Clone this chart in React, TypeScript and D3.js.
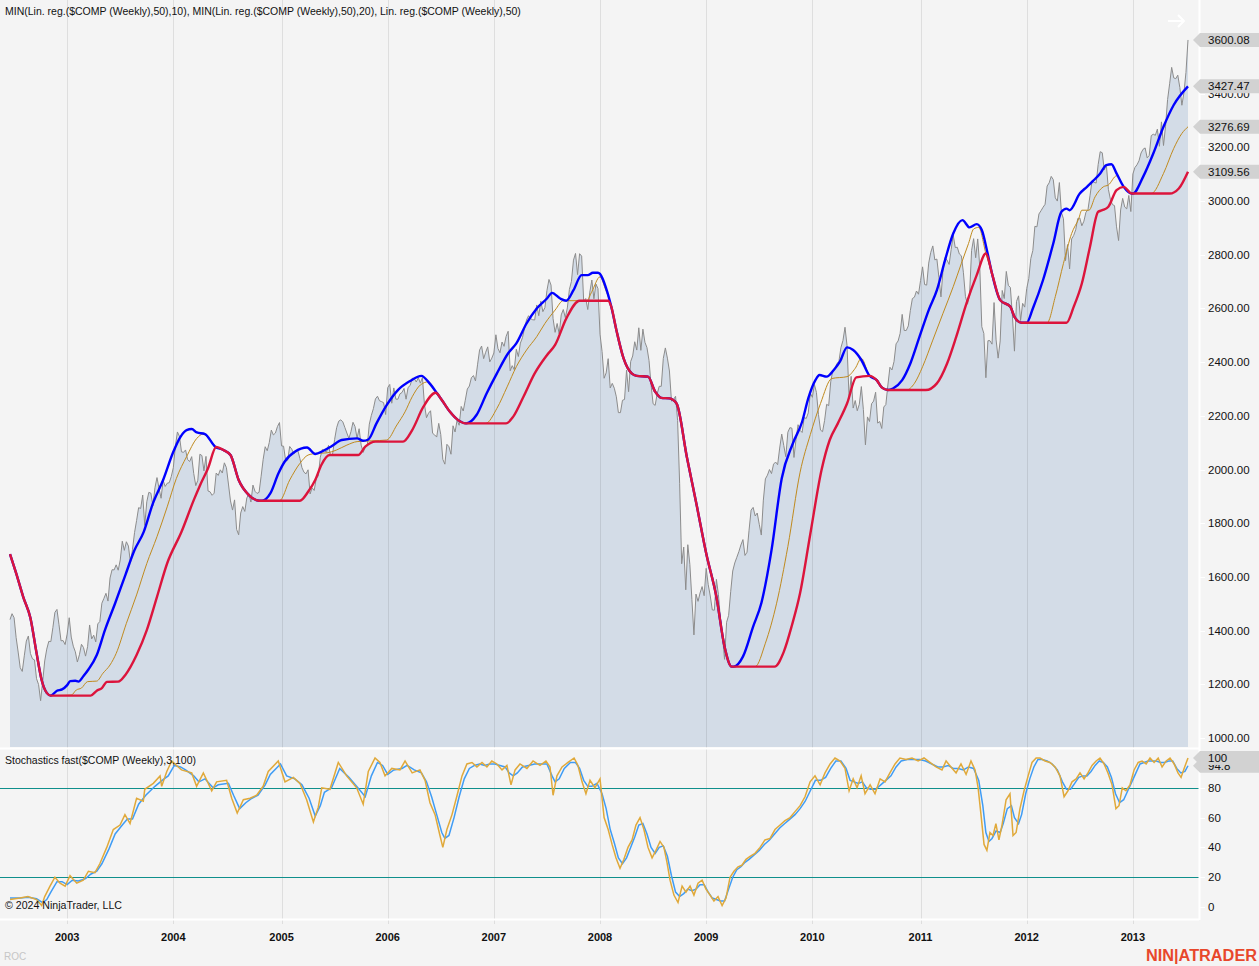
import React, { useEffect, useRef } from "react";
import * as d3 from "d3";

const W = 1259;
const H = 966;
const FONT = "'Liberation Sans', Arial, Helvetica, sans-serif";

// first weekly bar (Friday close)
const START_DATE = "2002-06-21";

// Weekly closes of $COMP
const closes2002 = [1441,1463,1448,1374,1320,1262,1248,1306,1361,1380,1315,1295,1291,1221,1199,1139,1210,1287,1331,1360,1359,1411,1468,1479,1422,1362,1363,1348];
const closes2003 = [1387,1448,1376,1342,1321,1283,1310,1349,1337,1305,1340,1421,1369,1383,1358,1425,1434,1502,1520,1539,1510,1596,1627,1626,1645,1625,1663,1733,1699,1731,1715,1653,1702,1765,1810,1858,1855,1905,1792,1880,1915,1912,1865,1932,1970,1930,1893,1960,1937,1949,1951,1974];
const closes2004 = [2007,2087,2140,2124,2066,2064,2073,2037,2030,2048,1985,1940,1960,2057,2052,1995,2049,1920,1917,1904,1912,1987,1978,1999,1987,2025,2007,1946,1883,1849,1887,1777,1757,1838,1862,1844,1894,1910,1879,1942,1919,1911,1915,1975,2038,2085,2070,2101,2147,2129,2136,2160,2175];
const closes2005 = [2088,2087,2035,2035,2086,2076,2058,2065,2071,2041,2007,1990,1984,1999,1909,1932,1922,1967,1976,2046,2075,2071,2064,2090,2053,2057,2112,2156,2180,2185,2178,2157,2136,2116,2141,2176,2160,2117,2152,2091,2064,2083,2090,2169,2202,2227,2263,2273,2256,2253,2249,2205];
const closes2006 = [2305,2317,2247,2304,2262,2262,2282,2287,2302,2262,2306,2313,2340,2339,2326,2342,2322,2343,2243,2193,2210,2219,2135,2129,2121,2172,2130,2038,2020,2094,2085,2057,2163,2140,2184,2165,2235,2218,2258,2300,2311,2342,2350,2330,2390,2445,2460,2413,2437,2457,2401,2415];
const closes2007 = [2434,2502,2451,2435,2475,2459,2496,2515,2368,2387,2372,2448,2421,2471,2491,2526,2557,2573,2562,2558,2557,2613,2573,2627,2588,2603,2667,2708,2687,2562,2511,2544,2505,2576,2596,2566,2602,2671,2701,2780,2805,2726,2804,2795,2627,2637,2596,2661,2706,2636,2691,2674];
const closes2008 = [2504,2440,2340,2360,2413,2304,2321,2303,2271,2212,2212,2258,2261,2370,2290,2402,2423,2476,2445,2528,2444,2523,2474,2454,2406,2316,2245,2239,2282,2310,2310,2414,2453,2415,2367,2255,2261,2273,2183,1947,1649,1711,1552,1720,1647,1516,1384,1536,1509,1540,1564,1530];
const closes2009 = [1632,1571,1529,1477,1476,1591,1534,1441,1377,1293,1431,1457,1545,1622,1652,1673,1694,1719,1739,1680,1692,1774,1849,1859,1827,1838,1796,1756,1886,1965,1979,2000,1985,2020,2028,2018,2080,2132,2090,2048,2139,2156,2154,2045,2112,2167,2146,2138,2194,2190,2211,2285];
const closes2010 = [2269,2317,2287,2205,2147,2141,2183,2243,2238,2327,2368,2374,2395,2402,2454,2481,2530,2461,2265,2347,2229,2257,2219,2243,2309,2223,2092,2196,2179,2245,2255,2288,2173,2179,2153,2233,2242,2315,2381,2371,2402,2468,2479,2507,2578,2518,2518,2535,2592,2637,2642,2665,2653];
const closes2011 = [2704,2755,2689,2687,2769,2809,2833,2781,2784,2715,2643,2743,2789,2780,2764,2820,2873,2827,2828,2803,2796,2733,2644,2616,2652,2816,2860,2789,2859,2756,2532,2507,2342,2480,2480,2467,2622,2483,2415,2479,2667,2637,2738,2686,2678,2572,2441,2626,2647,2555,2619,2605];
const closes2012 = [2674,2711,2786,2816,2906,2904,2952,2964,2977,2988,3056,3068,3092,3080,3012,3000,3069,2957,2934,2778,2838,2747,2859,2872,2893,2935,2937,2908,2925,2958,2968,3020,3076,3070,3067,3136,3184,3180,3116,3136,3044,3006,2987,2983,2904,2853,2967,3010,2978,2971,3021,2961];
const closes2013 = [3101,3125,3135,3150,3179,3193,3198,3161,3170,3244,3249,3245,3268,3204,3295,3207,3279,3378,3437,3498,3459,3456,3469,3423,3357,3403,3479,3600.08];

const closes = [
  ...closes2002, ...closes2003, ...closes2004, ...closes2005, ...closes2006, ...closes2007,
  ...closes2008, ...closes2009, ...closes2010, ...closes2011, ...closes2012, ...closes2013,
];

// indicator lines: [bar index, value]
const blueMin10: [number, number][] = [[0,1685],[3,1614],[6.5,1525],[10,1447],[13,1317],[15.5,1216],[18,1168],[20,1158],[23,1176],[25.5,1181],[28,1197],[29.5,1212],[32,1213],[33.5,1210],[36,1231],[38.5,1256],[42.5,1309],[46.5,1402],[51.5,1502],[56.5,1607],[61,1700],[65.5,1768],[70,1874],[75,1961],[80,2066],[83.5,2122],[86.5,2147],[89,2151],[91.5,2138],[95.5,2132],[100.5,2085],[104.5,2073],[108,2054],[112,1961],[117,1905],[122,1884],[123.5,1884],[127.5,1911],[131.5,1986],[134.5,2029],[139.5,2066],[145.5,2082],[149.5,2058],[153.5,2070],[157.5,2087],[162.5,2110],[170,2116],[173,2107],[175.5,2112],[179.5,2172],[184.5,2240],[190,2296],[196,2330],[201.5,2349],[205.5,2321],[209,2286],[211.5,2259],[215.5,2215],[219.5,2184],[223.5,2172],[228.5,2203],[233.5,2284],[238.5,2358],[244,2433],[248,2470],[253,2544],[258,2600],[263,2637],[265.5,2658],[269.5,2637],[272.5,2629],[276,2668],[280,2724],[283,2724],[285.5,2733],[288,2733],[292.5,2663],[294.5,2607],[297,2520],[300.5,2415],[304.5,2358],[307,2349],[312.5,2346],[316,2290],[319,2267],[323,2265],[326.5,2246],[331.5,2048],[336.5,1861],[341,1688],[346,1526],[350,1340],[353.5,1266],[354.5,1266],[359,1303],[364,1415],[368,1502],[373,1700],[378,1967],[383.5,2098],[388,2178],[391,2265],[394.5,2333],[396.5,2352],[400,2346],[403.5,2371],[406.5,2402],[410,2455],[413,2445],[417,2408],[421,2349],[424.5,2333],[427,2306],[430,2296],[432.5,2302],[437,2333],[441,2395],[445.5,2495],[450,2594],[454,2668],[458,2780],[462,2879],[466.5,2929],[470,2902],[473.5,2914],[476,2892],[478.5,2817],[481,2730],[485,2631],[490,2606],[492,2569],[495.5,2547],[498,2547],[501,2600],[506,2706],[511,2842],[515,2960],[517.5,2972],[519,2966],[524,3028],[527.5,3053],[530.5,3075],[534,3103],[537,3134],[539.5,3137],[542,3103],[545.5,3053],[549.5,3028],[550,3028],[555,3090],[560,3177],[565,3277],[570,3358],[577,3427.47]];

const goldMin20: [number, number][] = [[0,1685],[3,1614],[6.5,1525],[10,1447],[13,1317],[15.5,1216],[18,1168],[20,1158],[30,1160],[32.5,1179],[35,1186],[38,1210],[42.5,1212],[45.5,1241],[49,1272],[52,1315],[57,1427],[62,1533],[67,1650],[72,1750],[77,1861],[81.5,1967],[86.5,2048],[91.5,2116],[94.5,2132],[98,2110],[101,2084],[104.5,2073],[108,2054],[112,1961],[117,1905],[122,1884],[132,1884],[137,1961],[142,2023],[146,2054],[150,2060],[155,2062],[160,2073],[165,2091],[170,2104],[184.5,2110],[189.5,2166],[193.5,2215],[197,2271],[201,2315],[205,2327],[208.5,2286],[211.5,2259],[215.5,2215],[219.5,2184],[223,2172],[233,2172],[238.5,2228],[243.5,2308],[248,2383],[253,2445],[258,2495],[262,2544],[267,2594],[271,2629],[282.5,2629],[285,2663],[289,2718],[291.5,2675],[294.5,2607],[297,2520],[300.5,2415],[304.5,2358],[307,2349],[312.5,2346],[316,2290],[319,2267],[323,2265],[326.5,2246],[331.5,2048],[336.5,1861],[341,1688],[346,1526],[350,1340],[353.5,1266],[365,1266],[370,1353],[375.5,1502],[381,1713],[387,1990],[392,2130],[397,2246],[402.5,2339],[410,2346],[414,2377],[417,2414],[421,2349],[424.5,2333],[427,2306],[430,2296],[439,2296],[443,2321],[447,2383],[452,2482],[457,2582],[462,2681],[466,2768],[469.5,2842],[472,2896],[474.5,2902],[478,2805],[481,2730],[485,2631],[490,2606],[492,2569],[495.5,2547],[508,2547],[512,2644],[516,2768],[520,2879],[523.5,2935],[525,2966],[528.5,2966],[531.5,3016],[535.5,3053],[538,3060],[542,3094],[545.5,3053],[549.5,3028],[559,3028],[565,3103],[570,3196],[574,3252],[577,3276.69]];

const redLinReg: [number, number][] = [[0,1685],[3,1614],[6.5,1525],[10,1447],[13,1317],[15.5,1216],[18,1168],[20,1158],[39.5,1158],[42.5,1176],[45,1186],[47.5,1209],[53,1210],[56.5,1235],[62,1309],[67,1402],[72,1526],[77,1651],[84,1768],[90,1886],[93,1940],[97,2005],[101,2084],[104.5,2073],[108,2054],[112,1961],[117,1905],[122,1884],[142,1884],[146,1917],[149.5,1961],[152.5,2017],[156.5,2054],[170.5,2054],[174,2085],[179,2104],[192.5,2104],[197,2147],[202.5,2234],[208.5,2286],[211.5,2259],[215.5,2215],[219.5,2184],[223,2172],[243,2172],[246.5,2197],[251.5,2271],[257,2358],[263,2426],[267,2464],[272.5,2563],[279,2629],[293,2629],[294.5,2607],[297,2520],[300.5,2415],[304.5,2358],[307,2349],[312.5,2346],[316,2290],[319,2267],[323,2265],[326.5,2246],[331.5,2048],[336.5,1861],[341,1688],[346,1526],[350,1340],[353.5,1266],[374.5,1266],[379,1321],[383,1420],[387,1540],[392,1760],[397.5,1998],[401.5,2110],[405.5,2172],[410,2246],[414.5,2343],[421,2349],[424.5,2333],[427,2306],[430,2296],[448.5,2296],[454,2321],[459,2395],[463.5,2495],[468.5,2619],[473.5,2724],[478,2805],[481,2730],[485,2631],[490,2606],[492,2569],[495.5,2547],[517.5,2547],[521,2606],[525,2693],[529,2830],[533,2960],[535,2966],[538,2979],[542,3041],[545.5,3053],[549.5,3028],[568,3028],[572.5,3047],[577,3109.56]];

// Stochastics fast: K (orange) and D (blue), [bar index, value]
const stochK: [number, number][] = [[0,5],[4.9,6],[8.8,7],[13,5],[15.5,1],[17,7],[19.6,14],[22,20],[24.5,16],[27,14],[29.4,21],[32.7,16],[35.9,18],[38.4,24],[41.6,23],[44,29],[47.4,40],[50.6,52],[53.9,55],[56.3,62],[58.8,56],[62,73],[65.3,71],[66,79],[70.2,83],[73.5,88],[74.3,81],[76.8,91],[79.2,98],[82.4,94],[84,92],[89,90],[91.4,81],[94.7,90],[98.8,78],[101.2,84],[106.1,85],[108.6,73],[111.3,63],[114.3,72],[117.6,73],[120.8,75],[124,81],[126.5,91],[131.4,98],[134.7,84],[138.8,87],[142,83],[145.3,72],[148.6,57],[151,67],[152.7,80],[156.7,79],[160.8,97],[164.9,88],[169.8,80],[173,69],[175.5,91],[178.8,100],[181.2,97],[183.7,88],[187,93],[191,92],[193.5,98],[197,90],[200.8,92],[203.3,85],[205.7,70],[208.2,62],[210.6,48],[212,40],[214,52],[216.5,62],[219,75],[221.4,88],[223.8,96],[226.3,97],[228.7,94],[231.2,97],[233.6,94],[236,98],[238.5,96],[241,92],[243.4,95],[245.4,82],[247.4,92],[249.8,96],[253.2,93],[256.2,98],[259.6,95],[262.5,98],[264.5,94],[266,75],[267.9,88],[270.4,94],[273.3,97],[276.3,100],[278.2,95],[280.2,84],[282.1,76],[284.1,85],[286.5,80],[289,86],[291,60],[293,52],[294.9,42],[296.8,33],[298.8,26],[300.7,32],[302.7,40],[304.7,45],[306.6,55],[308.6,60],[310.5,52],[312.5,40],[314.5,33],[316.4,38],[318.4,44],[320.3,40],[321.8,30],[323.3,18],[325.2,8],[327.2,3],[329.2,14],[331.1,10],[333.1,14],[335,8],[337,16],[339,18],[340.9,12],[342.9,8],[344.8,4],[346.8,7],[348.8,1],[350.7,6],[352.7,20],[354.6,24],[356.6,27],[358.5,28],[360.5,32],[362.5,34],[364.9,36],[367.4,40],[369.8,45],[372.3,46],[374.7,52],[377.2,55],[379.6,58],[382.1,60],[384.5,64],[387,68],[389.4,74],[391.9,84],[394.3,88],[396.8,82],[399.2,90],[401.7,96],[404.1,100],[406.6,98],[409,93],[411,78],[413,86],[414.9,80],[416.9,88],[418.8,76],[421.3,82],[423.7,76],[426.2,86],[428.6,84],[431,90],[433.5,96],[435.9,100],[438.9,99],[441.8,100],[444.8,98],[447.7,100],[450.6,97],[453.6,94],[456.5,92],[458.5,98],[460.9,94],[463.4,90],[465.8,96],[468.3,89],[470.7,98],[472.7,92],[474.2,80],[475.6,62],[477.1,42],[478.5,38],[480,50],[481.5,48],[482.9,56],[484.4,45],[485.9,55],[487.9,72],[489.8,76],[491.3,48],[492.8,50],[494.7,66],[496.7,78],[498.7,88],[500.6,97],[502.6,100],[504.5,100],[507,98],[509.4,97],[511.9,94],[514.3,88],[516.3,74],[518.2,78],[520.2,84],[522.2,86],[524.1,90],[526.1,86],[528,90],[530,95],[532,98],[533.9,100],[535.9,96],[537.8,90],[539.8,82],[541.7,66],[543.2,68],[544.8,80],[546.6,78],[548.6,82],[550.6,92],[552.6,97],[554.5,98],[556.5,96],[558.4,100],[560.4,97],[562.4,100],[564.3,94],[566.3,98],[568.2,100],[570.2,96],[572.1,90],[573.6,87],[575.1,93],[577,100]];

const stochD: [number, number][] = [[0,6],[5,6],[9,6.5],[13,5.5],[16,3],[18,5],[20,10],[23,17],[25.5,17],[28,15],[30.5,18],[33.5,17.5],[37,19],[39.5,22],[42.5,24],[45,29],[48.5,39],[51.5,49],[55,55],[57.5,59],[60,59],[63,69],[66.5,75],[71,81],[74.5,85],[77.5,88],[80.5,95],[83.5,94],[86,92],[90,88],[92.5,84],[95.5,86],[99.5,80],[102,82],[107,83],[109.5,75],[112.5,66],[115.5,70],[118.5,73],[121.5,75],[125,82],[127.5,89],[132.5,96],[135.5,88],[139.5,86],[143,82],[146.5,73],[149.5,61],[152,68],[154,77],[157.5,80],[161.5,93],[166,87],[171,79],[174,74],[177,88],[180,97],[182.5,95],[185,89],[188,92],[192,93],[194.5,95],[198,92],[201.5,90],[204,84],[206.5,74],[209,62],[211.5,50],[213,46],[215,48],[217.5,60],[220,74],[222.5,86],[225,93],[227.5,95],[230,96],[232.5,95],[235,96],[237.5,96],[240,95],[242.5,94],[244.5,90],[246.5,88],[248.5,90],[251,94],[254,95],[257,96],[260.5,96],[263,96],[265.5,88],[267,84],[269,86],[271.5,93],[274.5,97],[277,97],[279,93],[281,85],[283,81],[285,81],[287.5,83],[290,76],[292,66],[294,52],[296,43],[298,33],[300,29],[302,33],[304,40],[306,47],[308,55],[310,56],[312,49],[314,40],[316,36],[318,40],[320,41],[322,34],[324,21],[326,10],[328,7],[330,9],[332,12],[334,11],[336,12],[338,15],[340,15],[342,10],[344,6],[346,5],[348,4],[350,4],[352,12],[354,20],[356,25],[358,27],[360,30],[362,32],[364.5,35],[367,38],[369.5,42],[372,45],[374.5,49],[377,53],[379.5,56],[382,59],[384.5,62],[387,66],[389.5,71],[392,78],[394.5,85],[397,85],[399.5,87],[402,93],[404.5,98],[407,98],[409.5,93],[411.5,85],[413.5,84],[415.5,83],[417.5,84],[419.5,80],[421.5,79],[424,79],[426.5,82],[429,85],[431.5,88],[434,94],[436.5,98],[439.5,99],[442.5,99],[445.5,99],[448.5,98],[451.5,96],[454.5,94],[457,94],[459.5,95],[462,93],[464.5,93],[467,92],[469.5,94],[472,93],[474.5,85],[476.5,68],[478,50],[479.5,44],[481,46],[483,51],[485,50],[486.5,56],[488.5,66],[490.5,68],[492,60],[494,56],[495.5,62],[497.5,76],[499.5,86],[501.5,94],[503.5,99],[505.5,99],[508,98],[510.5,96],[513,92],[515.5,84],[517.5,79],[519.5,79],[521.5,83],[523.5,87],[525.5,88],[527.5,88],[529.5,91],[531.5,95],[533.5,98],[535.5,97],[537.5,94],[539.5,87],[541.5,76],[543.5,70],[545.5,72],[547.5,78],[549.5,84],[551.5,90],[553.5,96],[555.5,97],[557.5,98],[559.5,98],[561.5,98],[563.5,97],[565.5,97],[567.5,98],[569.5,98],[571.5,93],[573.5,90],[575.5,91],[577,94.8]];

const priceTicks = [1000, 1200, 1400, 1600, 1800, 2000, 2200, 2400, 2600, 2800, 3000, 3200, 3400, 3600];
const stochTicks = [0, 20, 40, 60, 80, 100];
const stochLevels = [20, 80];

const TITLE_PRICE = "MIN(Lin. reg.($COMP (Weekly),50),10), MIN(Lin. reg.($COMP (Weekly),50),20), Lin. reg.($COMP (Weekly),50)";
const TITLE_STOCH = "Stochastics fast($COMP (Weekly),3,100)";

export default function App() {
  const ref = useRef<SVGSVGElement>(null);

  useEffect(() => {
    const svg = d3.select(ref.current);
    svg.selectAll("*").remove();

    const n = closes.length;
    const x = d3.scaleLinear().domain([0, n - 1]).range([10, 1188]);
    const y = d3.scaleLinear().domain([1000, 3600]).range([738, 40]);
    const ys = d3.scaleLinear().domain([0, 100]).range([907, 758]);

    const start = d3.utcParse("%Y-%m-%d")(START_DATE) as Date;
    const dateAt = (i: number) => d3.utcDay.offset(start, 7 * i);
    const yearTicks: { i: number; year: number }[] = [];
    for (let i = 1; i < n; i++) {
      const a = dateAt(i - 1).getUTCFullYear();
      const b = dateAt(i).getUTCFullYear();
      if (a !== b) yearTicks.push({ i, year: b });
    }

    // background
    svg.append("rect").attr("width", W).attr("height", H).attr("fill", "#f4f4f4");

    // price area
    const area = d3.area<number>()
      .x((_, i) => x(i))
      .y0(747)
      .y1((d) => y(d));
    svg.append("path").datum(closes).attr("d", area).attr("fill", "#d3dce7");

    // vertical grid lines
    svg.append("g").selectAll("line").data(yearTicks).join("line")
      .attr("x1", (d) => Math.round(x(d.i)) + 0.5)
      .attr("x2", (d) => Math.round(x(d.i)) + 0.5)
      .attr("y1", 0).attr("y2", 924)
      .attr("stroke", "#000").attr("stroke-opacity", 0.09);

    const priceLine = d3.line<number>().x((_, i) => x(i)).y((d) => y(d));
    svg.append("path").datum(closes).attr("d", priceLine)
      .attr("fill", "none").attr("stroke", "#8c8c8c").attr("stroke-width", 1);

    const knotLine = d3.line<[number, number]>()
      .x((d) => x(d[0])).y((d) => y(d[1])).curve(d3.curveMonotoneX);
    svg.append("path").datum(goldMin20).attr("d", knotLine)
      .attr("fill", "none").attr("stroke", "#c08a1e").attr("stroke-width", 1);
    svg.append("path").datum(blueMin10).attr("d", knotLine)
      .attr("fill", "none").attr("stroke", "#0000ff").attr("stroke-width", 2.4);
    svg.append("path").datum(redLinReg).attr("d", knotLine)
      .attr("fill", "none").attr("stroke", "#dc143c").attr("stroke-width", 2.4);

    // stochastic levels
    svg.append("g").selectAll("line").data(stochLevels).join("line")
      .attr("x1", 0).attr("x2", 1199)
      .attr("y1", (d) => Math.round(ys(d)) + 0.5).attr("y2", (d) => Math.round(ys(d)) + 0.5)
      .attr("stroke", "#0f8f8c").attr("stroke-width", 1);

    const stLine = d3.line<[number, number]>().x((d) => x(d[0])).y((d) => ys(d[1]));
    svg.append("path").datum(stochD).attr("d", stLine)
      .attr("fill", "none").attr("stroke", "#3f9cf5").attr("stroke-width", 1.5);
    svg.append("path").datum(stochK).attr("d", stLine)
      .attr("fill", "none").attr("stroke", "#e0a93a").attr("stroke-width", 1.5);

    // separators
    svg.append("line").attr("x1", 0).attr("x2", 1199).attr("y1", 748.5).attr("y2", 748.5)
      .attr("stroke", "#ffffff").attr("stroke-width", 2);
    svg.append("line").attr("x1", 0).attr("x2", 1199).attr("y1", 919.5).attr("y2", 919.5)
      .attr("stroke", "#ffffff").attr("stroke-width", 2);
    svg.append("line").attr("x1", 1199.5).attr("x2", 1199.5).attr("y1", 0).attr("y2", 920)
      .attr("stroke", "#ffffff").attr("stroke-width", 2);

    const txt = (g: any) => g.attr("font-family", FONT).attr("fill", "#111");

    // price axis
    const pa = svg.append("g");
    pa.selectAll("line").data(priceTicks).join("line")
      .attr("x1", 1200).attr("x2", 1205)
      .attr("y1", (d) => Math.round(y(d)) + 0.5).attr("y2", (d) => Math.round(y(d)) + 0.5)
      .attr("stroke", "#ffffff");
    pa.selectAll("text").data(priceTicks).join("text")
      .attr("x", 1208).attr("y", (d) => y(d) + 4)
      .attr("font-size", 11.5).call(txt)
      .text((d) => d.toFixed(2));

    const sa = svg.append("g");
    sa.selectAll("line").data(stochTicks).join("line")
      .attr("x1", 1200).attr("x2", 1205)
      .attr("y1", (d) => Math.round(ys(d)) + 0.5).attr("y2", (d) => Math.round(ys(d)) + 0.5)
      .attr("stroke", "#ffffff");
    sa.selectAll("text").data(stochTicks).join("text")
      .attr("x", 1208).attr("y", (d) => ys(d) + 4)
      .attr("font-size", 11.5).call(txt)
      .text((d) => String(d));

    // last-value markers
    const marker = (cy: number, label: string) => {
      const g = svg.append("g");
      g.append("path")
        .attr("d", `M1193,${cy} L1200,${cy - 7} L1259,${cy - 7} L1259,${cy + 7} L1200,${cy + 7} Z`)
        .attr("fill", "#d2d2d2");
      g.append("text").attr("x", 1208).attr("y", cy + 4).attr("font-size", 11.5).call(txt).text(label);
    };
    const lastD = stochD[stochD.length - 1][1];
    const lastK = stochK[stochK.length - 1][1];
    marker(ys(lastD), lastD.toFixed(1));
    marker(ys(lastK), String(lastK));
    const lastRed = redLinReg[redLinReg.length - 1][1];
    const lastGold = goldMin20[goldMin20.length - 1][1];
    const lastBlue = blueMin10[blueMin10.length - 1][1];
    const lastClose = closes[n - 1];
    marker(y(lastRed), lastRed.toFixed(2));
    marker(y(lastGold), lastGold.toFixed(2));
    marker(y(lastBlue), lastBlue.toFixed(2));
    marker(y(lastClose), lastClose.toFixed(2));

    // titles
    svg.append("text").attr("x", 5).attr("y", 15).attr("font-size", 10.5).call(txt).text(TITLE_PRICE);
    svg.append("text").attr("x", 5).attr("y", 764).attr("font-size", 10.5).call(txt).text(TITLE_STOCH);
    svg.append("text").attr("x", 5).attr("y", 909).attr("font-size", 10.6).call(txt).text("\u00a9 2024 NinjaTrader, LLC");

    // year labels
    svg.append("g").selectAll("text").data(yearTicks).join("text")
      .attr("x", (d) => x(d.i)).attr("y", 941).attr("text-anchor", "middle")
      .attr("font-size", 11).attr("font-weight", "bold").call(txt)
      .text((d) => String(d.year));

    svg.append("text").attr("x", 4).attr("y", 960).attr("font-size", 10)
      .attr("font-family", FONT).attr("fill", "#c6c6c6").text("ROC");

    svg.append("text").attr("x", 1146).attr("y", 961).attr("font-size", 16)
      .attr("font-weight", "bold").attr("font-family", FONT).attr("fill", "#e8472b")
      .attr("textLength", 111).attr("lengthAdjust", "spacingAndGlyphs")
      .text("NIN|ATRADER");

    // arrow (top right)
    const ag = svg.append("g").attr("stroke", "#ffffff").attr("stroke-width", 2).attr("fill", "none");
    ag.append("line").attr("x1", 1168).attr("x2", 1184).attr("y1", 21).attr("y2", 21);
    ag.append("path").attr("d", "M1178,15 L1184,21 L1178,27");
  }, []);

  return (
    <svg
      ref={ref}
      width={W}
      height={H}
      style={{ position: "fixed", left: 0, top: 0, display: "block" }}
    />
  );
}
